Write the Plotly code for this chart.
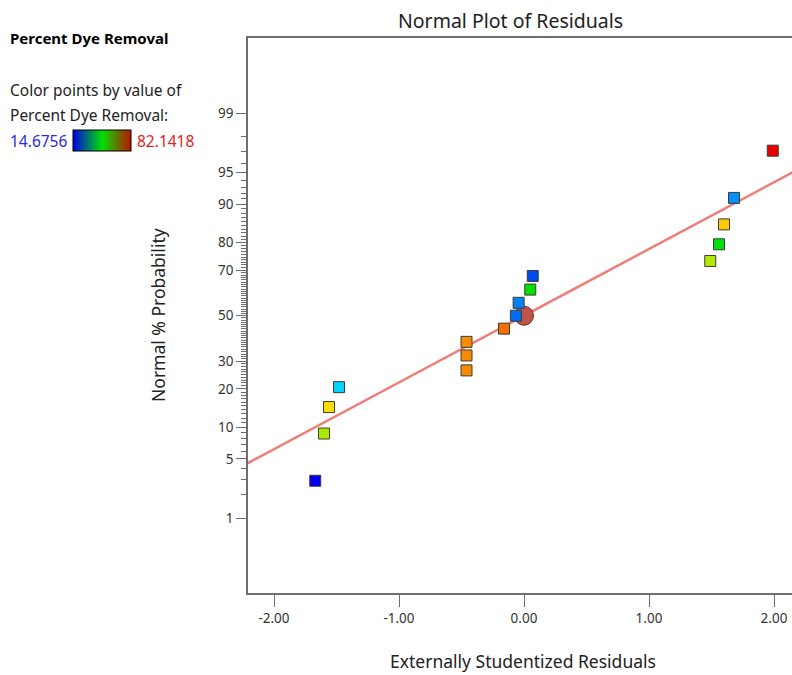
from statistics import NormalDist
import plotly.graph_objects as go

# Externally studentized residuals, sorted ascending, with their normal % probability
residuals = [-1.67, -1.60, -1.56, -1.48, -0.46, -0.46, -0.46, -0.16, -0.065,
             -0.043, 0.05, 0.07, 1.49, 1.56, 1.60, 1.68, 1.99]
prob_pct = [2.9, 8.8, 14.7, 20.6, 26.5, 32.4, 38.2, 44.1, 50.0,
            55.9, 61.8, 67.6, 73.5, 79.4, 85.3, 91.2, 97.1]
# Percent dye removal of each run (used to colour the points)
dye_removal = [14.6756, 59.7, 66.3, 29.9, 72.2, 72.2, 72.2, 74.2, 22.6,
               23.9, 48.4, 20.0, 60.3, 47.7, 67.6, 25.0, 82.1418]
dye_min, dye_max = 14.6756, 82.1418

# Reference line through the residuals (residual, % probability)
fit_resid = [-2.3, 2.3]
fit_prob = [3.9, 96.1]

# Centre marker
centre_resid = [0.0]
centre_prob = [50.0]

major_pct = [1, 5, 10, 20, 30, 50, 70, 80, 90, 95, 99]
minor_pct = [p for p in range(1, 100) if p not in major_pct]
x_ticks = [-2, -1, 0, 1, 2]

nd = NormalDist()


def z(p):
    return nd.inv_cdf(p / 100.0)


W, H = 792, 675
FONT = "Noto Sans"
AXC = "#6e6e6e"
TXT = "#333333"

rainbow = [[0.0, "rgb(0,0,235)"], [0.25, "rgb(0,235,255)"], [0.5, "rgb(0,225,0)"],
           [0.75, "rgb(255,235,0)"], [1.0, "rgb(235,0,0)"]]
legend_scale = [[0.0, "rgb(0,0,230)"], [0.5, "rgb(0,225,0)"], [1.0, "rgb(190,20,0)"]]

fig = go.Figure()

fig.add_trace(go.Scatter(
    x=fit_resid, y=[z(p) for p in fit_prob], mode="lines",
    line=dict(color="rgb(240,125,120)", width=2.5), hoverinfo="skip", showlegend=False))

fig.add_trace(go.Scatter(
    x=centre_resid, y=[z(p) for p in centre_prob], mode="markers",
    marker=dict(symbol="circle", size=19, color="rgb(190,85,75)",
                line=dict(color="rgb(110,40,35)", width=1)),
    showlegend=False))

fig.add_trace(go.Scatter(
    x=residuals, y=[z(p) for p in prob_pct], mode="markers",
    marker=dict(symbol="square", size=11, color=dye_removal, colorscale=rainbow,
                cmin=dye_min, cmax=dye_max, showscale=False,
                line=dict(color="rgb(60,60,60)", width=1)),
    showlegend=False))

# Colour key bar (points placed outside the axis range, only the colour bar shows)
fig.add_trace(go.Scatter(
    x=[10, 10], y=[0, 0], mode="markers",
    marker=dict(color=[dye_min, dye_max], colorscale=legend_scale, cmin=dye_min, cmax=dye_max,
                showscale=True,
                colorbar=dict(orientation="h", x=73 / W, xanchor="left", y=1 - 130 / H,
                              yanchor="top", lenmode="pixels", len=58, thickness=21,
                              xpad=0, ypad=0, showticklabels=False, ticks="",
                              outlinecolor="black", outlinewidth=1)),
    hoverinfo="skip", showlegend=False))

x_left = (248 - 524) / 125.0
x_right = (792 - 524) / 125.0


def label(text, px, py, size, color="#222222", anchor="left", angle=0):
    return dict(text=text, x=px / W, y=1 - py / H, xref="paper", yref="paper",
                xanchor=anchor, yanchor="middle", textangle=angle, showarrow=False,
                font=dict(size=size, color=color))


fig.update_layout(
    width=W, height=H, margin=dict(l=0, r=0, t=0, b=0),
    paper_bgcolor="white", plot_bgcolor="white",
    font=dict(family=FONT, color=TXT),
    xaxis=dict(domain=[248 / W, 1.0], range=[x_left, x_right],
               tickmode="array", tickvals=x_ticks,
               ticktext=[f"{v:.2f}" for v in x_ticks],
               ticks="outside", ticklen=12, tickcolor=AXC, tickwidth=1.2,
               showline=True, linecolor=AXC, linewidth=1.5, mirror=True,
               showgrid=False, zeroline=False, tickfont=dict(size=13.5, color=TXT)),
    yaxis=dict(domain=[1 - 593 / H, 1 - 38 / H], range=[-3.185, 3.19],
               tickmode="array", tickvals=[z(p) for p in major_pct],
               ticktext=[str(p) for p in major_pct],
               ticks="outside", ticklen=10, tickcolor=AXC, tickwidth=1.2,
               minor=dict(tickmode="array", tickvals=[z(p) for p in minor_pct],
                          ticks="outside", ticklen=5, tickcolor=AXC, tickwidth=1,
                          showgrid=False),
               showline=True, linecolor=AXC, linewidth=1.5, mirror=False,
               showgrid=False, zeroline=False, tickfont=dict(size=13.5, color=TXT)),
    annotations=[
        label("Normal Plot of Residuals", 510, 20, 19.5, anchor="center"),
        label("Externally Studentized Residuals", 523, 661, 17.5, anchor="center"),
        label("Normal % Probability", 158, 315, 17.5, anchor="center", angle=-90),
        label("<b>Percent Dye Removal</b>", 8, 38, 15, color="black"),
        label("Color points by value of", 8, 90, 15.5),
        label("Percent Dye Removal:", 8, 115, 15.5),
        label(f"{dye_min:.4f}", 8, 141, 15.5, color="rgb(40,40,230)"),
        label(f"{dye_max:.4f}", 135, 141, 15.5, color="rgb(225,35,35)"),
    ],
)

fig.write_html("out.html")
